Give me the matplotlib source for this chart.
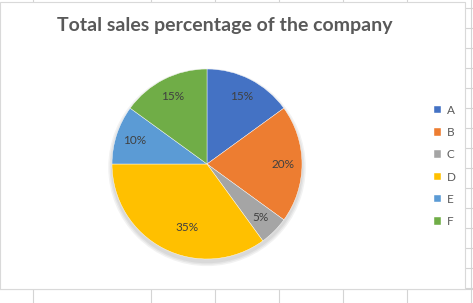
import matplotlib.pyplot as plt
from matplotlib.patches import Rectangle, Circle

# Data
categories = ['A', 'B', 'C', 'D', 'E', 'F']
sales_pct = [15, 20, 5, 35, 10, 15]
colors = ['#4472C4', '#ED7D31', '#A5A5A5', '#FFC000', '#5B9BD5', '#70AD47']
title = 'Total sales percentage of the company'

W, H = 473, 303
fig = plt.figure(figsize=(W / 100, H / 100), dpi=100)

# Background: spreadsheet cells + chart area (pixel coordinates)
bg = fig.add_axes([0, 0, 1, 1])
bg.set_xlim(0, W)
bg.set_ylim(H, 0)
bg.axis('off')

grid_c = '#D4D4D4'
col_x = [33, 151, 215, 279, 343, 407, 471]
for x in col_x:
    bg.plot([x, x], [0, H], color=grid_c, lw=0.8)
for y in range(8, 300, 20):
    bg.plot([465, W], [y, y], color=grid_c, lw=0.8)
bg.plot([0, W], [289, 289], color=grid_c, lw=0.8)
bg.add_patch(Rectangle((0, 2), 465, 287, facecolor='white',
                       edgecolor='#D9D9D9', lw=0.8, zorder=3))

bg.text(225, 26, title, ha='center', va='center', fontsize=14,
        fontweight='bold', color='#595959', family='Lato', zorder=4)

# Pie
cx, cy, r = 207, 164, 95
ax = fig.add_axes([(cx - r) / W, 1 - (cy + r) / H, 2 * r / W, 2 * r / H])
for rr in [1.04, 1.025, 1.01]:
    ax.add_patch(Circle((0, -0.035), rr, facecolor='#000000', alpha=0.05,
                        edgecolor='none', clip_on=False, zorder=0))
wedges, texts, autotexts = ax.pie(
    sales_pct, colors=colors, startangle=90, counterclock=False,
    autopct='%d%%', pctdistance=0.8,
    wedgeprops=dict(edgecolor='white', linewidth=0.3),
    textprops=dict(fontsize=8.5, color='#404040', family='Lato'))
autotexts[3].set_position((-0.21, -0.67))
ax.set_xlim(-1, 1)
ax.set_ylim(-1, 1)

# Legend
fig.legend(wedges, categories, loc='upper left',
           bbox_to_anchor=(428 / W, 1 - 99 / H), frameon=False,
           prop=dict(family='Lato', size=8.5), labelcolor='#595959',
           handlelength=0.6, handleheight=0.6, handletextpad=0.5,
           labelspacing=0.95, borderpad=0)

fig.savefig('out.png', dpi=100)
